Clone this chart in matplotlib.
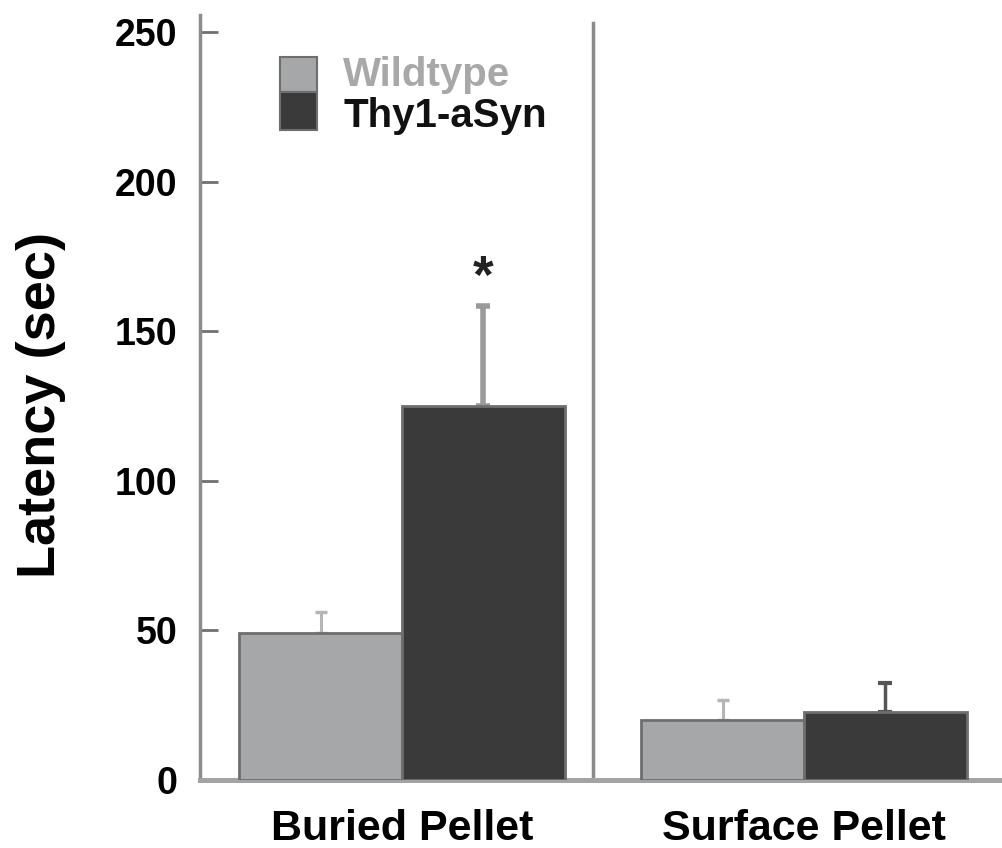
import matplotlib
matplotlib.use("Agg")
import matplotlib.pyplot as plt
from matplotlib.patches import Rectangle
import numpy as np

plt.rcParams['font.family'] = ['Liberation Sans', 'DejaVu Sans']

categories = ["Buried Pellet", "Surface Pellet"]
series_names = ["Wildtype", "Thy1-aSyn"]
wildtype = [49, 20.1]
wildtype_err = [7, 6.7]
thy1 = [125, 22.7]
thy1_err = [33.5, 9.7]
yticks = [0, 50, 100, 150, 200, 250]

c_wt = "#a6a7a9"
c_th = "#3a3a3a"
edge = "#6e6e6e"
axis_gray = "#8c8c8c"

W, H = 1002, 848
fig = plt.figure(figsize=(W / 100, H / 100), dpi=100)
ax = fig.add_axes([200 / W, 1 - 780 / H, (W - 200) / W, 765 / H])

x = np.arange(len(categories))
w = 0.405
ax.bar(x - w/2, wildtype, w, color=c_wt, edgecolor=edge, linewidth=2, zorder=3)
ax.bar(x + w/2, thy1, w, color=c_th, edgecolor=edge, linewidth=2, zorder=3)
ax.errorbar(x - w/2, wildtype, yerr=[np.zeros(2), wildtype_err], fmt='none',
            ecolor="#b5b5b5", elinewidth=2.2, capsize=4, capthick=2.5, zorder=2)
ax.errorbar([x[0] + w/2], [thy1[0]], yerr=[[0], [thy1_err[0]]], fmt='none',
            ecolor="#9a9a9a", elinewidth=4, capsize=5, capthick=4, zorder=2)
ax.errorbar([x[1] + w/2], [thy1[1]], yerr=[[0], [thy1_err[1]]], fmt='none',
            ecolor="#555555", elinewidth=2.5, capsize=5, capthick=3, zorder=2)

ax.text(x[0] + w/2, thy1[0] + thy1_err[0] + 0.5, "*", ha='center', va='bottom',
        fontsize=38, fontweight='bold', color='#222222')

ax.axvline(0.475, color=axis_gray, linewidth=2.5, ymin=0, ymax=0.99)

ax.set_xlim(-0.5025, 1.4925)
ax.set_ylim(0, 255.7)
ax.set_yticks(yticks)
ax.set_yticklabels([str(t) for t in yticks], fontsize=27, fontweight='bold')
ax.set_xticks(x)
ax.set_xticklabels(categories, fontsize=31, fontweight='bold')
ax.tick_params(axis='x', length=0, pad=21)
ax.tick_params(axis='y', direction='in', length=13, width=2, color="#707070", pad=16.5)

for s in ['top', 'right']:
    ax.spines[s].set_visible(False)
ax.spines['left'].set_color(axis_gray)
ax.spines['left'].set_linewidth(2.5)
ax.spines['bottom'].set_color("#a3a3a3")
ax.spines['bottom'].set_linewidth(3.6)

ax.set_ylabel("Latency (sec)", fontsize=39, fontweight='bold')
ax.yaxis.set_label_coords((66 - 200) / (W - 200), (780 - 405) / 765)

# legend drawn manually to match the reference layout
fig.add_artist(Rectangle((280 / W, 1 - 92 / H), 37 / W, 35 / H, transform=fig.transFigure,
                         facecolor=c_wt, edgecolor=edge, linewidth=1.5))
fig.add_artist(Rectangle((280 / W, 1 - 130 / H), 37 / W, 38 / H, transform=fig.transFigure,
                         facecolor=c_th, edgecolor=edge, linewidth=1.5))
fig.text(343 / W, 1 - 86 / H, series_names[0], fontsize=29, fontweight='bold',
         color="#a8a8a8", ha='left', va='baseline')
fig.text(343 / W, 1 - 127 / H, series_names[1], fontsize=29, fontweight='bold',
         color="#111111", ha='left', va='baseline')

fig.savefig("out.png", dpi=100)
